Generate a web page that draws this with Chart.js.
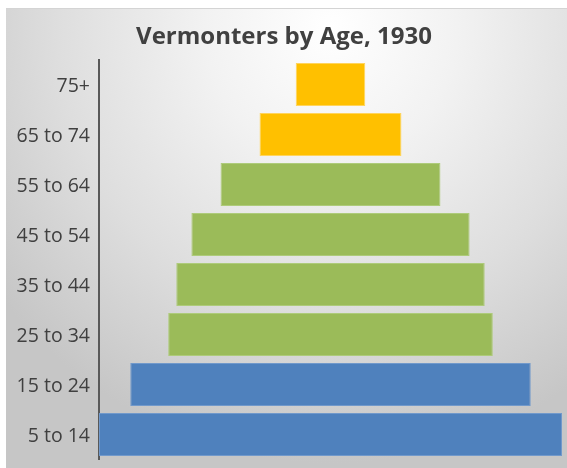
<!DOCTYPE html>
<html>
<head>
<meta charset="utf-8">
<script src="https://cdn.jsdelivr.net/npm/chart.js@4"></script>
<style>
  html, body { margin: 0; padding: 0; background: #fff; }
  #wrap {
    position: absolute; left: 6px; top: 8px; width: 561px; height: 460px;
    border-top: 1px solid #d4d4d4;
    box-sizing: border-box;
    background: radial-gradient(ellipse 75% 95% at 58% 4%, #ffffff 0%, #f2f2f2 30%, #dedede 65%, #c6c6c6 100%);
  }
</style>
</head>
<body>
<div id="wrap"><canvas id="pyramid"></canvas></div>
<script>
// 年齢階級（上から順）
const ageGroups = ['75+', '65 to 74', '55 to 64', '45 to 54', '35 to 44', '25 to 34', '15 to 24', '5 to 14'];
// 人数
const population = [9900, 20200, 31300, 39600, 43900, 46200, 57000, 65900];
// 色分け：高齢・中年・若年
const barColors = ['#FFC000', '#FFC000', '#9BBB59', '#9BBB59', '#9BBB59', '#9BBB59', '#4F81BD', '#4F81BD'];
const edgeColors = ['#FFD45C', '#FFD45C', '#AECB7A', '#AECB7A', '#AECB7A', '#AECB7A', '#7199CB', '#7199CB'];

const half = Math.max(...population) / 2;

// 中央揃えの棒にするため [-v/2, v/2] の区間で描く
const floating = population.map(v => [-v / 2, v / 2]);

new Chart(document.getElementById('pyramid'), {
  type: 'bar',
  data: {
    labels: ageGroups,
    datasets: [{
      data: floating,
      backgroundColor: barColors,
      borderColor: edgeColors,
      borderWidth: 1,
      borderSkipped: false,
      barPercentage: 0.86,
      categoryPercentage: 1
    }]
  },
  options: {
    indexAxis: 'y',
    responsive: true,
    maintainAspectRatio: false,
    animation: false,
    layout: { padding: { left: 0, right: 5, top: 0, bottom: 8.5 } },
    plugins: {
      legend: { display: false },
      tooltip: { enabled: false },
      title: {
        display: true,
        text: 'Vermonters by Age, 1930',
        color: '#404040',
        font: { family: 'Open Sans', size: 24, weight: 'bold', lineHeight: 1.2 },
        padding: { top: 14, bottom: 7.7 }
      }
    },
    scales: {
      x: { display: false, min: -half, max: half },
      y: {
        grid: { display: false, drawTicks: false },
        border: { display: true, color: '#595959', width: 2 },
        ticks: { color: '#404040', padding: 9, labelOffset: 2, font: { family: 'Open Sans', size: 19.5 } },
        afterFit: (scale) => {
          // 幅を固定し、ラベル分の上下余白は付けない
          scale.width = 93;
          scale.paddingTop = 0;
          scale.paddingBottom = 0;
        }
      }
    }
  }
});
</script>
</body>
</html>
